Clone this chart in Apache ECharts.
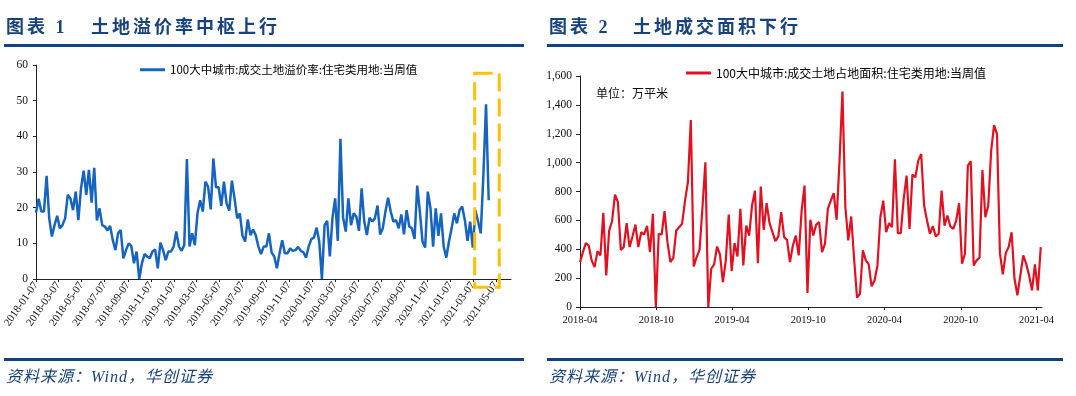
<!DOCTYPE html>
<html>
<head>
<meta charset="utf-8">
<script src="https://cdn.jsdelivr.net/npm/echarts@6/dist/echarts.min.js"></script>
<style>
  body { margin: 0; background: #fff; }
  #wrap { position: relative; width: 1076px; height: 396px; overflow: hidden; }
  #chart { position: absolute; left: 0; top: 0; width: 1076px; height: 396px; }
  .hd { position: absolute; font: bold 18px "Liberation Serif", "Noto Sans CJK SC"; color: #17427d; letter-spacing: 3px; white-space: nowrap; line-height: 20px; }
  .rule { position: absolute; height: 3px; background: #0f427f; }
  .src { position: absolute; font: italic 16px "Liberation Serif", "Noto Sans CJK SC"; color: #17427d; white-space: nowrap; line-height: 18px; letter-spacing: 1px; }
  .unit { position: absolute; font: 12px "Noto Sans CJK SC"; color: #111; white-space: nowrap; line-height: 14px; }
</style>
</head>
<body>
<div id="wrap">
  <div id="chart"></div>
  <div class="hd" style="left:6px;top:17px">图表 1</div>
  <div class="hd" style="left:91px;top:17px">土地溢价率中枢上行</div>
  <div class="rule" style="left:4px;top:44px;width:520px"></div>
  <div class="hd" style="left:549px;top:17px">图表 2</div>
  <div class="hd" style="left:633px;top:17px">土地成交面积下行</div>
  <div class="rule" style="left:547px;top:44px;width:516px"></div>
  <div class="unit" style="left:596px;top:86px">单位：万平米</div>
  <div class="rule" style="left:4px;top:358px;width:520px"></div>
  <div class="src" style="left:6px;top:368px">资料来源：Wind，华创证券</div>
  <div class="rule" style="left:547px;top:358px;width:516px"></div>
  <div class="src" style="left:549px;top:368px">资料来源：Wind，华创证券</div>
</div>
<script>
// 图表1：溢价率（周度，2018-01-07 起）
var premiumName = '100大中城市:成交土地溢价率:住宅类用地:当周值';
var premiumStart = '2018-01-07';
var premiumRate = [18.6,22.5,18.9,18.9,28.9,17,11.9,15.1,17.7,14.2,15.1,17,23.6,22.6,19.3,24.5,16.5,25.4,30.4,23.6,
  30.6,21.4,31.2,16.4,19.8,15.1,14.7,13.6,14.9,10.9,8.1,12.8,13.7,5.8,8.1,10,9.3,4.4,7.7,0,
  4.4,7,6.3,5.8,7.7,8.3,3,10.2,8.1,5.3,7.7,7.7,9.1,13.3,9.1,7.9,9.5,33.6,9.1,12.8,
  9.5,18.4,22.1,18.9,27.3,25.9,19.5,33.8,25.7,25.7,20.5,27.3,21.2,19.2,27.6,22.6,17,18.4,12.1,10.5,
  16.7,12.3,13.9,12.3,9.1,7,9.1,9.1,12.8,7.4,6.3,3,7.2,10.9,7.2,7.2,8.6,7.9,8.1,9,
  7.9,7.5,6,9.1,11.2,11.6,14.4,10.5,0,15.1,16.3,6.3,17.2,22.6,10.7,39.3,17.2,13.3,22.6,15.1,
  18.4,17.5,13.5,25.4,16.1,12.3,17.2,16.1,17,20.6,12.5,14.2,18.9,22.8,18.9,16.1,16.5,14.2,18.1,12.5,
  19.3,14.7,14.2,11.2,26.2,18.9,10.5,8.8,24.5,20,9.1,19.8,12.1,18.4,9.1,6,10.5,14.2,18.4,15.6,
  19.3,20.3,16.5,10.7,16.1,8.8,19.3,16.1,12.8,29.2,49,22.1];
var premiumTicks = ['2018-01-07','2018-03-07','2018-05-07','2018-07-07','2018-09-07','2018-11-07',
  '2019-01-07','2019-03-07','2019-05-07','2019-07-07','2019-09-07','2019-11-07',
  '2020-01-07','2020-03-07','2020-05-07','2020-07-07','2020-09-07','2020-11-07',
  '2021-01-07','2021-03-07','2021-05-07'];
var premiumAxisMax = '2021-06-16';
// 黄色虚线框标注
var boxDates = ['2021-03-12', '2021-05-16'];
var boxValues = [57.7, -2.3];

// 图表2：成交面积（周度，2018-04-01 起）
var areaName = '100大中城市:成交土地占地面积:住宅类用地:当周值';
var areaStart = '2018-04-01';
var landArea = [311,380,442,426,323,276,387,357,652,219,530,594,779,726,396,415,581,415,488,571,
  415,518,502,562,380,645,0,507,502,664,449,311,341,530,553,576,733,864,1295,281,
  346,396,691,1002,0,265,295,419,364,173,323,641,249,442,350,680,288,564,495,703,
  806,304,834,535,719,581,518,456,488,657,484,465,311,426,495,357,668,841,97,604,
  495,571,588,380,438,680,737,788,604,1014,1493,691,461,627,334,65,92,392,323,295,
  143,184,288,622,737,518,581,553,1023,511,511,749,910,541,917,899,1014,1060,703,599,
  507,560,488,507,806,564,634,558,541,599,719,300,369,979,1009,288,323,341,949,622,
  703,1083,1260,1198,373,226,373,415,518,196,81,219,357,300,219,115,295,115,415];
var areaTicks = ['2018-04','2018-10','2019-04','2019-10','2020-04','2020-10','2021-04'];
var areaAxisMax = '2021-04-14';

function toTime(s) {
  var p = s.split('-').map(Number);
  return new Date(p[0], p[1] - 1, p[2] || 1).getTime();
}
function weekly(start, values) {
  var p = start.split('-').map(Number);
  return values.map(function (v, i) {
    return [new Date(p[0], p[1] - 1, p[2] + 7 * i).getTime(), v];
  });
}
function tickMap(labels) {
  var m = {};
  labels.forEach(function (l) { m[toTime(l)] = l; });
  return m;
}

var leftMap = tickMap(premiumTicks);
var rightMap = tickMap(areaTicks);
var serif = 'Liberation Serif';
var axisColor = '#222';

var chart = echarts.init(document.getElementById('chart'));
var option = {
  animation: false,
  backgroundColor: 'transparent',
  grid: [
    { left: 36, top: 65, width: 475, height: 214 },
    { left: 580, top: 76, width: 462, height: 231 }
  ],
  legend: [
    { data: [premiumName], left: 140, top: 64, padding: 0, icon: 'rect', itemWidth: 25, itemHeight: 3,
      textStyle: { fontSize: 11.5, color: '#000', fontFamily: 'Noto Sans CJK SC' } },
    { data: [areaName], left: 686, top: 67, padding: 0, icon: 'rect', itemWidth: 25, itemHeight: 3,
      textStyle: { fontSize: 12, color: '#000', fontFamily: 'Noto Sans CJK SC' } }
  ],
  xAxis: [
    {
      type: 'value', gridIndex: 0, scale: true,
      min: toTime(premiumStart), max: toTime(premiumAxisMax),
      splitLine: { show: false },
      axisLine: { lineStyle: { color: axisColor, width: 1 } },
      axisTick: { customValues: premiumTicks.map(toTime), length: 3, lineStyle: { color: axisColor } },
      axisLabel: {
        customValues: premiumTicks.map(toTime), rotate: 55, margin: 4,
        fontSize: 11, fontFamily: serif, color: '#111',
        formatter: function (v) { return leftMap[v] || ''; }
      }
    },
    {
      type: 'value', gridIndex: 1, scale: true,
      min: toTime(areaStart), max: toTime(areaAxisMax),
      splitLine: { show: false },
      axisLine: { lineStyle: { color: axisColor, width: 1 } },
      axisTick: { customValues: areaTicks.map(toTime), length: 3, lineStyle: { color: axisColor } },
      axisLabel: {
        customValues: areaTicks.map(toTime), margin: 8,
        fontSize: 10.5, fontFamily: serif, color: '#111',
        formatter: function (v) { return rightMap[v] || ''; }
      }
    }
  ],
  yAxis: [
    {
      type: 'value', gridIndex: 0, min: 0, max: 60, interval: 10,
      splitLine: { show: false },
      axisLine: { show: true, lineStyle: { color: axisColor } },
      axisTick: { show: true, length: 3, lineStyle: { color: axisColor } },
      axisLabel: { fontSize: 11.5, fontFamily: serif, color: '#111', margin: 8 }
    },
    {
      type: 'value', gridIndex: 1, min: 0, max: 1600, interval: 200,
      splitLine: { show: false },
      axisLine: { show: true, lineStyle: { color: axisColor } },
      axisTick: { show: true, length: 4, lineStyle: { color: axisColor } },
      axisLabel: {
        fontSize: 11.5, fontFamily: serif, color: '#111', margin: 8,
        formatter: function (v) { return v.toLocaleString('en-US'); }
      }
    }
  ],
  series: [
    {
      name: premiumName, type: 'line', xAxisIndex: 0, yAxisIndex: 0,
      data: weekly(premiumStart, premiumRate),
      showSymbol: false, color: '#1565C0',
      lineStyle: { width: 2.5, color: '#1565C0' }
    },
    {
      name: areaName, type: 'line', xAxisIndex: 1, yAxisIndex: 1,
      data: weekly(areaStart, landArea),
      showSymbol: false, color: '#E5101F',
      lineStyle: { width: 2.2, color: '#E5101F' }
    }
  ]
};
chart.setOption(option);

// 黄色虚线框：由坐标轴换算像素位置
var p1 = chart.convertToPixel({ gridIndex: 0 }, [toTime(boxDates[0]), boxValues[0]]);
var p2 = chart.convertToPixel({ gridIndex: 0 }, [toTime(boxDates[1]), boxValues[1]]);
chart.setOption({
  graphic: [{
    type: 'rect', z: 100,
    shape: { x: p1[0], y: p1[1], width: p2[0] - p1[0], height: p2[1] - p1[1] },
    style: { fill: 'none', stroke: '#FFC000', lineWidth: 3, lineDash: [18, 7] }
  }]
});
</script>
</body>
</html>
